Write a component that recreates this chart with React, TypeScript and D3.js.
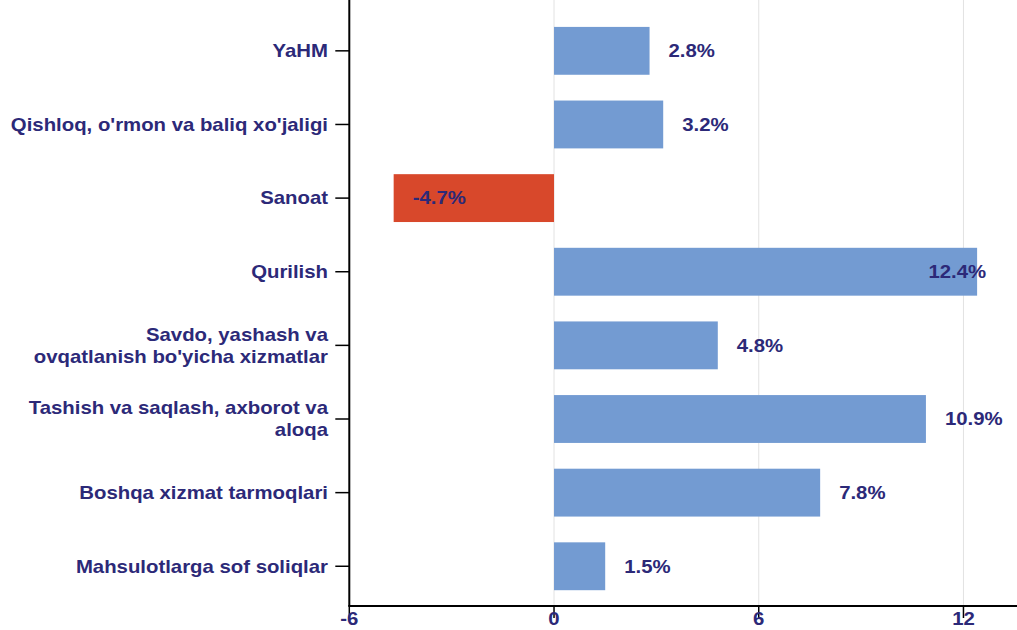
import React from 'react';
import * as d3 from 'd3';

// categories, top to bottom ("\n" marks the line break of the two-line labels)
const categories = [
  'YaHM',
  "Qishloq, o'rmon va baliq xo'jaligi",
  'Sanoat',
  'Qurilish',
  "Savdo, yashash va\novqatlanish bo'yicha xizmatlar",
  'Tashish va saqlash, axborot va\naloqa',
  'Boshqa xizmat tarmoqlari',
  'Mahsulotlarga sof soliqlar',
];
const values = [2.8, 3.2, -4.7, 12.4, 4.8, 10.9, 7.8, 1.5];
const xTicks = [-6, 0, 6, 12];

const width = 1017;
const height = 630;
const axisX = 349.3;
const axisY = 606;
const navy = '#2c2978';
const blue = '#739bd2';
const red = '#d8482b';
const font = '"Liberation Sans", Arial, sans-serif';
const fs = 17.7;
const stretch = 1.15; // the reference text is drawn a bit wide

const App = () => {
  const x = d3.scaleLinear().domain([-6, 13.6]).range([axisX, axisX + 19.6 * 34.12]);
  const y = d3
    .scaleBand<string>()
    .domain(categories)
    .range([0, axisY])
    .paddingInner(0.35)
    .paddingOuter(0.29)
    .align(0.63);

  return (
    <svg
      width={width}
      height={height}
      style={{ position: 'absolute', left: 0, top: 0, background: '#fff' }}
      fontFamily={font}
      fontWeight="bold"
    >
      {/* gridlines */}
      {xTicks.filter((t) => t !== -6).map((t) => (
        <line key={t} x1={x(t)} x2={x(t)} y1={0} y2={axisY} stroke="#e2e2e2" strokeWidth={1} />
      ))}

      {/* bars */}
      {values.map((v, i) => (
        <rect
          key={categories[i]}
          x={Math.min(x(0), x(v))}
          y={y(categories[i])}
          width={Math.abs(x(v) - x(0))}
          height={y.bandwidth()}
          fill={v < 0 ? red : blue}
        />
      ))}

      {/* value labels */}
      {values.map((v, i) => {
        const cy = (y(categories[i]) as number) + y.bandwidth() / 2;
        const label = `${v}%`;
        const overflow = x(v) + 19 + 60 > width;
        const lx = overflow ? x(v) + 9 : x(v) + 19;
        return (
          <text
            key={'v' + i}
            transform={`translate(${lx},${cy}) scale(${stretch},1)`}
            textAnchor={overflow ? 'end' : 'start'}
            dy="0.36em"
            fontSize={fs}
            fill={navy}
          >
            {label}
          </text>
        );
      })}

      {/* y axis */}
      <line x1={axisX} x2={axisX} y1={0} y2={axisY} stroke="#000" strokeWidth={2} />
      {categories.map((c) => {
        const cy = (y(c) as number) + y.bandwidth() / 2;
        const lines = c.split('\n');
        const lh = 22;
        return (
          <g key={c}>
            <line x1={axisX - 14} x2={axisX} y1={cy} y2={cy} stroke="#000" strokeWidth={1.5} />
            <text
              transform={`translate(328,${cy}) scale(${stretch},1)`}
              textAnchor="end"
              fontSize={fs}
              fill={navy}
            >
              {lines.map((l, j) => (
                <tspan key={j} x={0} y={(j - (lines.length - 1) / 2) * lh} dy="0.36em">
                  {l}
                </tspan>
              ))}
            </text>
          </g>
        );
      })}

      {/* x axis */}
      <line x1={axisX - 1} x2={width} y1={axisY} y2={axisY} stroke="#000" strokeWidth={2} />
      {xTicks.map((t) => (
        <g key={t} transform={`translate(${x(t)},${axisY})`}>
          <line y1={0} y2={12} stroke="#000" strokeWidth={1.5} />
          <text transform={`translate(0,${height - axisY - 5}) scale(${stretch},1)`} textAnchor="middle" fontSize={fs} fill={navy}>
            {t}
          </text>
        </g>
      ))}
    </svg>
  );
};

export default App;
